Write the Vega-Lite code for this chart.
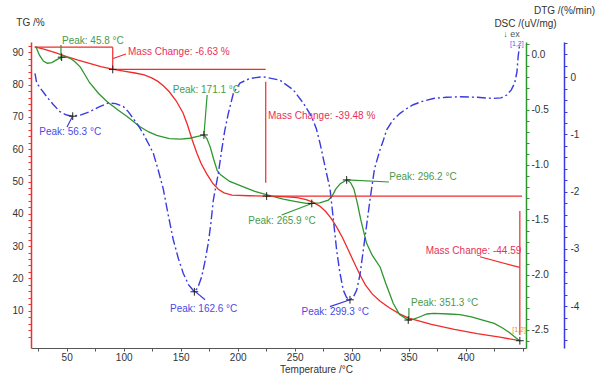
{
  "$schema": "https://vega.github.io/schema/vega-lite/v6.json",
  "width": 495,
  "height": 306,
  "autosize": {"type": "none"},
  "padding": {"left": 31, "top": 42, "right": 74, "bottom": 38},
  "background": "white",
  "config": {
    "view": {"stroke": null},
    "font": "Liberation Sans",
    "axis": {"labelFont": "Liberation Sans", "titleFont": "Liberation Sans", "labelFontSize": 10, "titleFontSize": 10, "titleFontWeight": "normal", "labelColor": "#333", "titleColor": "#333", "grid": false, "tickSize": 3},
    "text": {"font": "Liberation Sans", "fontSize": 10, "align": "left", "baseline": "middle"}
  },
  "datasets": {
    "tg": [
      {"T":22,"v":91.7},{"T":30,"v":91.0},{"T":40,"v":89.9},{"T":50,"v":88.7},{"T":60,"v":87.6},{"T":70,"v":86.6},{"T":80,"v":85.6},{"T":90,"v":84.8},{"T":100,"v":84.2},{"T":110,"v":83.6},{"T":118,"v":83.0},{"T":125,"v":82.0},{"T":130,"v":81.0},{"T":135,"v":79.6},{"T":140,"v":77.8},{"T":146,"v":75.0},{"T":152,"v":71.3},{"T":156,"v":67.5},{"T":160,"v":63.0},{"T":164,"v":59.0},{"T":168,"v":55.5},{"T":173,"v":52.3},{"T":178,"v":49.5},{"T":183,"v":47.6},{"T":188,"v":46.5},{"T":195,"v":45.8},{"T":210,"v":45.6},{"T":225,"v":45.5},{"T":240,"v":45.3},{"T":252,"v":45.0},{"T":260,"v":44.4},{"T":266,"v":43.6},{"T":272,"v":42.4},{"T":277,"v":40.8},{"T":282,"v":38.6},{"T":287,"v":35.8},{"T":292,"v":32.6},{"T":297,"v":28.8},{"T":302,"v":25.0},{"T":307,"v":21.3},{"T":312,"v":18.0},{"T":318,"v":15.2},{"T":325,"v":12.9},{"T":333,"v":10.9},{"T":342,"v":9.0},{"T":350,"v":7.7},{"T":370,"v":5.8},{"T":390,"v":4.2},{"T":410,"v":2.9},{"T":430,"v":1.8},{"T":447.5,"v":0.7}
    ],
    "dtg": [
      {"T":23,"v":0.075},{"T":26,"v":0.0},{"T":29.5,"v":-0.055},{"T":33,"v":-0.075},{"T":37,"v":-0.07},{"T":41,"v":-0.045},{"T":45.6,"v":-0.02},{"T":50,"v":-0.02},{"T":53,"v":-0.03},{"T":57,"v":-0.06},{"T":62,"v":-0.11},{"T":66,"v":-0.18},{"T":70,"v":-0.25},{"T":78,"v":-0.35},{"T":85,"v":-0.42},{"T":95,"v":-0.5},{"T":103,"v":-0.56},{"T":114,"v":-0.65},{"T":122,"v":-0.7},{"T":129,"v":-0.73},{"T":140,"v":-0.76},{"T":150,"v":-0.765},{"T":158,"v":-0.757},{"T":165,"v":-0.74},{"T":170.4,"v":-0.727},{"T":173,"v":-0.76},{"T":176,"v":-0.84},{"T":179,"v":-0.95},{"T":182,"v":-1.05},{"T":185,"v":-1.09},{"T":193,"v":-1.15},{"T":205,"v":-1.2},{"T":215,"v":-1.24},{"T":225,"v":-1.27},{"T":240,"v":-1.31},{"T":250,"v":-1.33},{"T":260,"v":-1.35},{"T":265,"v":-1.35},{"T":272,"v":-1.345},{"T":279.5,"v":-1.32},{"T":283,"v":-1.28},{"T":286,"v":-1.22},{"T":290,"v":-1.17},{"T":295.6,"v":-1.136},{"T":299,"v":-1.16},{"T":302,"v":-1.22},{"T":305,"v":-1.35},{"T":308,"v":-1.5},{"T":313,"v":-1.71},{"T":318,"v":-1.82},{"T":325,"v":-1.93},{"T":330,"v":-2.08},{"T":336.5,"v":-2.26},{"T":342,"v":-2.36},{"T":349.6,"v":-2.41},{"T":355,"v":-2.4},{"T":360,"v":-2.38},{"T":366,"v":-2.355},{"T":372,"v":-2.35},{"T":385,"v":-2.355},{"T":395,"v":-2.36},{"T":405,"v":-2.38},{"T":418,"v":-2.42},{"T":425,"v":-2.44},{"T":432,"v":-2.48},{"T":438,"v":-2.52},{"T":444,"v":-2.57},{"T":447.5,"v":-2.6}
    ],
    "dsc": [
      {"T":22.2,"v":0.07},{"T":23.7,"v":-0.1},{"T":28,"v":-0.22},{"T":32.5,"v":-0.34},{"T":38,"v":-0.47},{"T":44,"v":-0.6},{"T":50,"v":-0.66},{"T":55.3,"v":-0.68},{"T":62,"v":-0.66},{"T":70.4,"v":-0.6},{"T":78,"v":-0.52},{"T":86.5,"v":-0.45},{"T":93,"v":-0.46},{"T":99.6,"v":-0.51},{"T":104,"v":-0.6},{"T":108.4,"v":-0.72},{"T":113,"v":-0.85},{"T":117,"v":-0.98},{"T":122,"v":-1.17},{"T":126,"v":-1.33},{"T":130,"v":-1.6},{"T":134.7,"v":-1.95},{"T":139,"v":-2.4},{"T":143.5,"v":-2.84},{"T":148,"v":-3.17},{"T":152.3,"v":-3.43},{"T":157,"v":-3.63},{"T":162,"v":-3.75},{"T":165,"v":-3.68},{"T":168.4,"v":-3.49},{"T":171,"v":-3.25},{"T":174.2,"v":-2.9},{"T":176.5,"v":-2.55},{"T":178.6,"v":-2.15},{"T":183,"v":-1.68},{"T":186,"v":-1.27},{"T":188.5,"v":-0.95},{"T":191.8,"v":-0.63},{"T":196.2,"v":-0.28},{"T":202,"v":-0.1},{"T":210.8,"v":-0.02},{"T":222.4,"v":0.01},{"T":237,"v":-0.05},{"T":248.8,"v":-0.22},{"T":257.5,"v":-0.45},{"T":264.9,"v":-0.69},{"T":269,"v":-0.9},{"T":272.2,"v":-1.15},{"T":276.6,"v":-1.56},{"T":281,"v":-1.95},{"T":284,"v":-2.5},{"T":286.8,"v":-3.02},{"T":289.5,"v":-3.4},{"T":292.6,"v":-3.72},{"T":295.5,"v":-3.85},{"T":298.5,"v":-3.89},{"T":301.5,"v":-3.84},{"T":304.4,"v":-3.72},{"T":307.3,"v":-3.45},{"T":310.2,"v":-3.02},{"T":313,"v":-2.6},{"T":316,"v":-2.15},{"T":320,"v":-1.6},{"T":324.8,"v":-1.27},{"T":327.5,"v":-1.12},{"T":330.7,"v":-0.92},{"T":336,"v":-0.75},{"T":342.4,"v":-0.63},{"T":348,"v":-0.55},{"T":354,"v":-0.48},{"T":362,"v":-0.42},{"T":371.6,"v":-0.37},{"T":383,"v":-0.35},{"T":395,"v":-0.34},{"T":410,"v":-0.35},{"T":424,"v":-0.37},{"T":431,"v":-0.36},{"T":436,"v":-0.31},{"T":440,"v":-0.22},{"T":443,"v":-0.1},{"T":445,"v":0.1},{"T":446,"v":0.36},{"T":447.5,"v":0.6}
    ],
    "tgRules": [
      {"T":22,"T2":90.4,"v":91.6,"v2":91.6},
      {"T":90.4,"T2":90.4,"v":91.6,"v2":84.7},
      {"T":90.4,"T2":224.6,"v":84.7,"v2":84.7},
      {"T":224.6,"T2":224.6,"v":80.9,"v2":49.6},
      {"T":224.6,"T2":449.4,"v":45.5,"v2":45.5},
      {"T":447.5,"T2":447.5,"v":40.9,"v2":2.5},
      {"T":90.6,"T2":102,"v":88.1,"v2":89.5},
      {"T":412.5,"T2":447.5,"v":26.7,"v2":23.4}
    ],
    "tgText": [
      {"T":103.8,"v":90.1,"label":"Mass Change: -6.63 %"},
      {"T":226.6,"v":70.3,"label":"Mass Change: -39.48 %"},
      {"T":364.9,"v":28.6,"label":"Mass Change: -44.59"}
    ],
    "tgCross": [{"T":90.4,"v":84.7},{"T":225.4,"v":45.5},{"T":447.5,"v":0.7}],
    "exoText": [{"T":433,"v":95.6,"label":"↓ ex"}],
    "segOrange": [{"T":440.8,"v":4.0,"label":"[1,2]"}],
    "segBlue": [{"T":438.9,"v":92.7,"label":"[1,2]"}],
    "dtgRules": [
      {"T":45,"T2":45,"v":0.09,"v2":-0.045},
      {"T":173.2,"T2":170.4,"v":-0.364,"v2":-0.727},
      {"T":238.6,"T2":265,"v":-1.455,"v2":-1.35},
      {"T":295.6,"T2":332.7,"v":-1.136,"v2":-1.155},
      {"T":350.2,"T2":350.2,"v":-2.3,"v2":-2.41}
    ],
    "dtgText": [
      {"T":45.9,"v":0.13,"label":"Peak: 45.8 °C"},
      {"T":143,"v":-0.318,"label":"Peak: 171.1 °C"},
      {"T":209.3,"v":-1.51,"label":"Peak: 265.9 °C"},
      {"T":333,"v":-1.106,"label":"Peak: 296.2 °C"},
      {"T":352,"v":-2.257,"label":"Peak: 351.3 °C"}
    ],
    "dtgCross": [{"T":45.6,"v":-0.02},{"T":170.4,"v":-0.727},{"T":265,"v":-1.35},{"T":295.6,"v":-1.136},{"T":349.6,"v":-2.41}],
    "dscRules": [
      {"T":55.3,"T2":50.3,"v":-0.677,"v2":-0.869},
      {"T":161.8,"T2":171.4,"v":-3.73,"v2":-3.89},
      {"T":298.5,"T2":280.9,"v":-3.89,"v2":-4.01}
    ],
    "dscText": [
      {"T":26,"v":-0.96,"label":"Peak: 56.3 °C"},
      {"T":140.6,"v":-4.05,"label":"Peak: 162.6 °C"},
      {"T":256,"v":-4.11,"label":"Peak: 299.3 °C"}
    ],
    "dscCross": [{"T":55.3,"v":-0.68},{"T":162,"v":-3.75},{"T":298.5,"v":-3.89}]
  },
  "layer": [
    {
      "data": {"name": "tg"},
      "mark": {"type": "line", "color": "#f22a2a", "strokeWidth": 1.3},
      "encoding": {
        "x": {"field": "T", "type": "quantitative", "scale": {"domain": [18.7, 452.9], "nice": false, "zero": false},
          "axis": {"title": "Temperature /°C", "values": [25,50,75,100,125,150,175,200,225,250,275,300,325,350,375,400,425,450], "labelExpr": "(datum.value % 50 == 0) && (datum.value < 420) ? datum.label : ''", "labelOverlap": false, "domainColor": "#555", "tickColor": "#555", "labelPadding": 1, "titleX": 285, "titleY": 21, "titleBaseline": "middle", "titleAlign": "center"}},
        "y": {"field": "v", "type": "quantitative", "scale": {"domain": [-1.55, 93.2], "nice": false, "zero": false},
          "axis": {"orient": "left", "title": "TG /%", "values": [2,4,6,8,10,12,14,16,18,20,22,24,26,28,30,32,34,36,38,40,42,44,46,48,50,52,54,56,58,60,62,64,66,68,70,72,74,76,78,80,82,84,86,88,90,92], "labelExpr": "datum.value % 10 === 0 ? datum.label : ''", "domainColor": "#f03030", "domainWidth": 1.5, "tickColor": "#f03030", "labelPadding": 5, "titleAngle": 0, "titleX": -1, "titleY": -19.5, "titleAlign": "center", "titleBaseline": "middle"}}
      }
    },
    {
      "data": {"name": "dtg"},
      "mark": {"type": "line", "color": "#2e962e", "strokeWidth": 1.3},
      "encoding": {
        "x": {"field": "T", "type": "quantitative", "scale": {"domain": [18.7, 452.9], "nice": false, "zero": false}, "axis": null},
        "y": {"field": "v", "type": "quantitative", "scale": {"domain": [-2.664, 0.118], "nice": false, "zero": false},
          "axis": {"orient": "right", "offset": 0, "title": "DTG /(%/min)", "values": [0.1,0,-0.1,-0.2,-0.3,-0.4,-0.5,-0.6,-0.7,-0.8,-0.9,-1,-1.1,-1.2,-1.3,-1.4,-1.5,-1.6,-1.7,-1.8,-1.9,-2,-2.1,-2.2,-2.3,-2.4,-2.5,-2.6], "labelExpr": "abs(datum.value*2 - round(datum.value*2)) < 0.001 ? (datum.value < 0 ? '-' + format(-datum.value, '.1f') : format(datum.value, '.1f')) : ''", "domainColor": "#2e962e", "domainWidth": 1.5, "tickColor": "#2e962e", "labelPadding": 2, "titleAngle": 0, "titleX": 38, "titleY": -31.5, "titleAlign": "center", "titleBaseline": "middle"}}
      }
    },
    {
      "data": {"name": "dsc"},
      "mark": {"type": "line", "color": "#3a3ae0", "strokeWidth": 1.4, "strokeDash": [9, 3, 2, 3]},
      "encoding": {
        "x": {"field": "T", "type": "quantitative", "scale": {"domain": [18.7, 452.9], "nice": false, "zero": false}, "axis": null},
        "y": {"field": "v", "type": "quantitative", "scale": {"domain": [-4.733, 0.617], "nice": false, "zero": false},
          "axis": {"orient": "right", "offset": 38, "title": "DSC /(uV/mg)", "values": [0.6,0.4,0.2,0,-0.2,-0.4,-0.6,-0.8,-1,-1.2,-1.4,-1.6,-1.8,-2,-2.2,-2.4,-2.6,-2.8,-3,-3.2,-3.4,-3.6,-3.8,-4,-4.2,-4.4,-4.6], "labelExpr": "abs(datum.value - round(datum.value)) < 0.001 ? (datum.value < 0 ? '-' + format(-datum.value, 'd') : format(datum.value, 'd')) : ''", "domainColor": "#3a3ae0", "domainWidth": 1.5, "tickColor": "#3a3ae0", "labelPadding": 3, "titleAngle": 0, "titleX": -39, "titleY": -18.5, "titleAlign": "center", "titleBaseline": "middle"}}
      }
    },
    {
      "data": {"name": "tgRules"},
      "mark": {"type": "rule", "color": "#f22a2a", "strokeWidth": 1.2},
      "encoding": {
        "x": {"field": "T", "type": "quantitative", "scale": {"domain": [18.7, 452.9], "nice": false, "zero": false}, "axis": null}, "x2": {"field": "T2"},
        "y": {"field": "v", "type": "quantitative", "scale": {"domain": [-1.55, 93.2], "nice": false, "zero": false}, "axis": null}, "y2": {"field": "v2"}
      }
    },
    {
      "data": {"name": "tgText"},
      "mark": {"type": "text", "color": "#e8305a"},
      "encoding": {"x": {"field": "T", "type": "quantitative", "scale": {"domain": [18.7, 452.9], "nice": false, "zero": false}, "axis": null}, "y": {"field": "v", "type": "quantitative", "scale": {"domain": [-1.55, 93.2], "nice": false, "zero": false}, "axis": null}, "text": {"field": "label"}}
    },
    {
      "data": {"name": "exoText"},
      "mark": {"type": "text", "color": "#555", "fontSize": 9},
      "encoding": {"x": {"field": "T", "type": "quantitative", "scale": {"domain": [18.7, 452.9], "nice": false, "zero": false}, "axis": null}, "y": {"field": "v", "type": "quantitative", "scale": {"domain": [-1.55, 93.2], "nice": false, "zero": false}, "axis": null}, "text": {"field": "label"}}
    },
    {
      "data": {"name": "segOrange"},
      "mark": {"type": "text", "color": "#e0902a", "fontSize": 7},
      "encoding": {"x": {"field": "T", "type": "quantitative", "scale": {"domain": [18.7, 452.9], "nice": false, "zero": false}, "axis": null}, "y": {"field": "v", "type": "quantitative", "scale": {"domain": [-1.55, 93.2], "nice": false, "zero": false}, "axis": null}, "text": {"field": "label"}}
    },
    {
      "data": {"name": "segBlue"},
      "mark": {"type": "text", "color": "#5a5ae8", "fontSize": 7},
      "encoding": {"x": {"field": "T", "type": "quantitative", "scale": {"domain": [18.7, 452.9], "nice": false, "zero": false}, "axis": null}, "y": {"field": "v", "type": "quantitative", "scale": {"domain": [-1.55, 93.2], "nice": false, "zero": false}, "axis": null}, "text": {"field": "label"}}
    },
    {
      "data": {"name": "tgCross"},
      "mark": {"type": "point", "shape": "M-1,0L1,0M0,-1L0,1", "filled": false, "color": "#222", "strokeWidth": 1, "size": 60, "opacity": 1},
      "encoding": {"x": {"field": "T", "type": "quantitative", "scale": {"domain": [18.7, 452.9], "nice": false, "zero": false}, "axis": null}, "y": {"field": "v", "type": "quantitative", "scale": {"domain": [-1.55, 93.2], "nice": false, "zero": false}, "axis": null}}
    },
    {
      "data": {"name": "dtgRules"},
      "mark": {"type": "rule", "color": "#2e962e", "strokeWidth": 1.2},
      "encoding": {
        "x": {"field": "T", "type": "quantitative", "scale": {"domain": [18.7, 452.9], "nice": false, "zero": false}, "axis": null}, "x2": {"field": "T2"},
        "y": {"field": "v", "type": "quantitative", "scale": {"domain": [-2.664, 0.118], "nice": false, "zero": false}, "axis": null}, "y2": {"field": "v2"}
      }
    },
    {
      "data": {"name": "dtgText"},
      "mark": {"type": "text", "color": "#4a9a4a"},
      "encoding": {"x": {"field": "T", "type": "quantitative", "scale": {"domain": [18.7, 452.9], "nice": false, "zero": false}, "axis": null}, "y": {"field": "v", "type": "quantitative", "scale": {"domain": [-2.664, 0.118], "nice": false, "zero": false}, "axis": null}, "text": {"field": "label"}}
    },
    {
      "data": {"name": "dtgCross"},
      "mark": {"type": "point", "shape": "M-1,0L1,0M0,-1L0,1", "filled": false, "color": "#222", "strokeWidth": 1, "size": 60, "opacity": 1},
      "encoding": {"x": {"field": "T", "type": "quantitative", "scale": {"domain": [18.7, 452.9], "nice": false, "zero": false}, "axis": null}, "y": {"field": "v", "type": "quantitative", "scale": {"domain": [-2.664, 0.118], "nice": false, "zero": false}, "axis": null}}
    },
    {
      "data": {"name": "dscRules"},
      "mark": {"type": "rule", "color": "#3a3ae0", "strokeWidth": 1.2},
      "encoding": {
        "x": {"field": "T", "type": "quantitative", "scale": {"domain": [18.7, 452.9], "nice": false, "zero": false}, "axis": null}, "x2": {"field": "T2"},
        "y": {"field": "v", "type": "quantitative", "scale": {"domain": [-4.733, 0.617], "nice": false, "zero": false}, "axis": null}, "y2": {"field": "v2"}
      }
    },
    {
      "data": {"name": "dscText"},
      "mark": {"type": "text", "color": "#4a4ae6"},
      "encoding": {"x": {"field": "T", "type": "quantitative", "scale": {"domain": [18.7, 452.9], "nice": false, "zero": false}, "axis": null}, "y": {"field": "v", "type": "quantitative", "scale": {"domain": [-4.733, 0.617], "nice": false, "zero": false}, "axis": null}, "text": {"field": "label"}}
    },
    {
      "data": {"name": "dscCross"},
      "mark": {"type": "point", "shape": "M-1,0L1,0M0,-1L0,1", "filled": false, "color": "#222", "strokeWidth": 1, "size": 60, "opacity": 1},
      "encoding": {"x": {"field": "T", "type": "quantitative", "scale": {"domain": [18.7, 452.9], "nice": false, "zero": false}, "axis": null}, "y": {"field": "v", "type": "quantitative", "scale": {"domain": [-4.733, 0.617], "nice": false, "zero": false}, "axis": null}}
    }
  ],
  "resolve": {"scale": {"x": "independent", "y": "independent"}}
}
